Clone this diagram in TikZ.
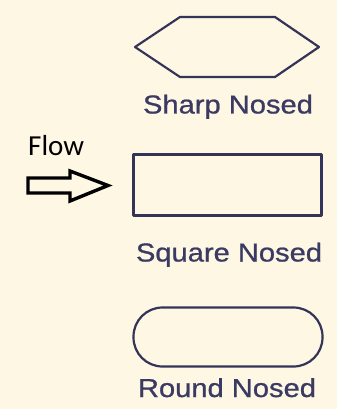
\documentclass[tikz,border=0pt]{standalone}
\usepackage{fontspec}
\setmainfont{Liberation Sans}
\newfontfamily\capfont[FakeBold=0.8]{Liberation Sans}
\newfontfamily\flowfont{Carlito}
\definecolor{cream}{RGB}{254,247,228}
\definecolor{navy}{RGB}{52,52,88}
\definecolor{navytext}{RGB}{58,58,98}
\begin{document}
\begin{tikzpicture}[x=1pt,y=-1pt,
  shapeline/.style={draw=navy,line width=2.2pt,line join=round},
  caption/.style={text=navytext,font=\capfont\fontsize{26}{26}\selectfont,anchor=base,xscale=1.12,inner sep=0pt},
  flowarrow/.style={draw=black,line width=3.4pt,line join=miter}]
\fill[cream] (0,0) rectangle (337,409);
\useasboundingbox (0,0) rectangle (337,409);
% sharp nosed
\coordinate (h1) at (135,47);
\coordinate (h2) at (180,17);
\coordinate (h3) at (275,17);
\coordinate (h4) at (319,47);
\coordinate (h5) at (275,77);
\coordinate (h6) at (180,77);
\draw[shapeline] (h1) -- (h2) -- (h3) -- (h4) -- (h5) -- (h6) -- cycle;
\node[caption] (sharp) at (228,113.5) {Sharp Nosed};
% square nosed
\node[shapeline,rectangle,minimum width=188pt,minimum height=61pt,inner sep=0pt] (square) at (227.5,185) {};
\node[caption] (squaret) at (229,261.5) {Square Nosed};
% round nosed
\node[shapeline,rectangle,rounded corners=29pt,minimum width=189pt,minimum height=59pt,inner sep=0pt] (round) at (228,337) {};
\node[caption] (roundt) at (227,397) {Round Nosed};
% flow
\node[font=\flowfont\fontsize{29}{29}\selectfont,anchor=base west,inner sep=0pt,text=black] (flow) at (28,155) {Flow};
\coordinate (a1) at (28,178);
\coordinate (a2) at (70,178);
\coordinate (a3) at (70,171);
\coordinate (a4) at (108,185.5);
\coordinate (a5) at (70,201);
\coordinate (a6) at (70,193);
\coordinate (a7) at (28,193);
\draw[flowarrow] (a1) -- (a2) -- (a3) -- (a4) -- (a5) -- (a6) -- (a7) -- cycle;
\end{tikzpicture}
\end{document}
